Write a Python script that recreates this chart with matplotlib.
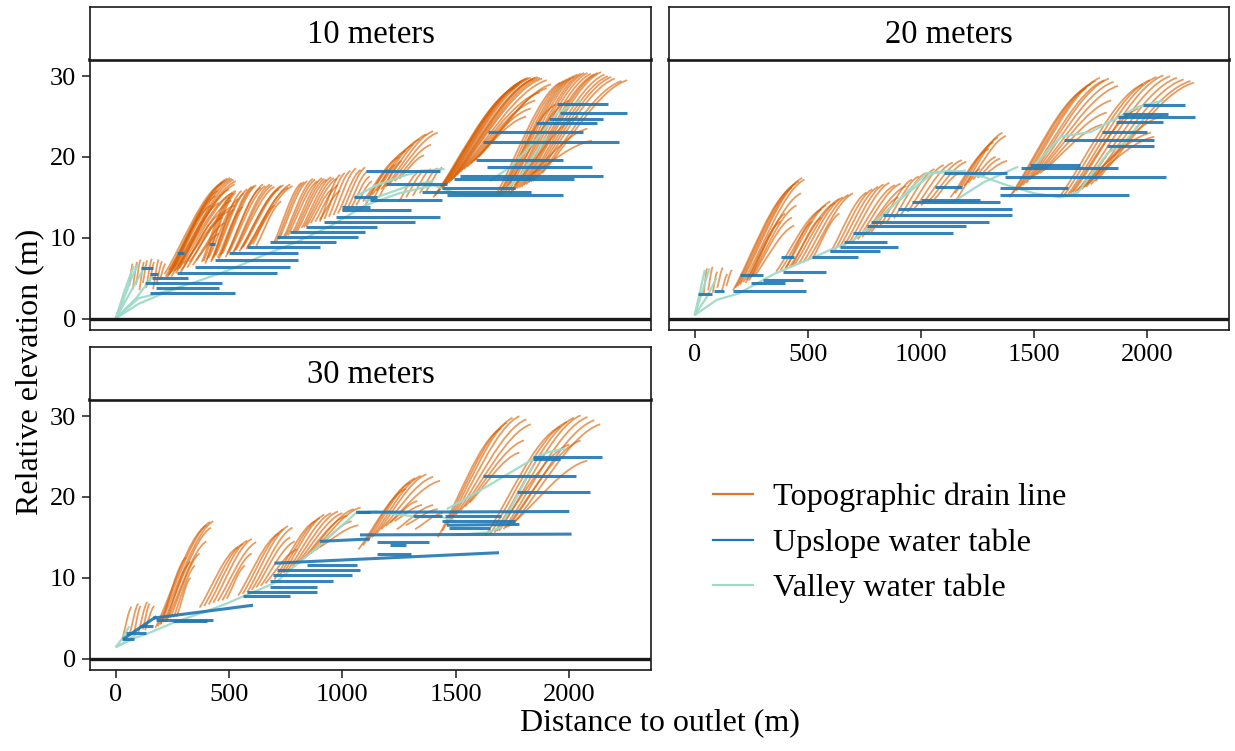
import matplotlib
matplotlib.use("Agg")
import matplotlib.pyplot as plt
from matplotlib.path import Path
from matplotlib.patches import PathPatch
from matplotlib.lines import Line2D

plt.rcParams['font.family'] = ['Liberation Serif', 'DejaVu Serif']

# ---------------- data ----------------
PANELS = ["10 meters", "20 meters", "30 meters"]
X_TICKS = [0, 500, 1000, 1500, 2000]
Y_TICKS = [0, 10, 20, 30]
SERIES = ["Topographic drain line", "Upslope water table", "Valley water table"]

# Topographic drain lines: (x_start, y_start, x_end, y_end)
DRAIN_10 = [
    (60, 4.0, 75, 6.8), (75, 3.6, 95, 7.0), (90, 4.2, 110, 7.3), (105, 3.5, 125, 7.0),
    (120, 4.4, 140, 7.2), (135, 3.8, 160, 7.4), (150, 4.5, 170, 7.0), (165, 3.6, 190, 7.3),
    (180, 4.2, 205, 7.1), (195, 4.8, 220, 6.8),
    (215, 5.5, 470, 16.8), (225, 5.0, 490, 17.3), (235, 6.0, 505, 17.4), (245, 5.2, 520, 17.2),
    (255, 6.2, 530, 17.0), (265, 5.6, 500, 16.0), (275, 6.5, 515, 15.5), (290, 6.0, 510, 14.6),
    (300, 6.8, 525, 14.0), (315, 6.3, 470, 12.5), (325, 7.0, 500, 13.3), (340, 6.6, 480, 11.8),
    (355, 7.2, 455, 10.5), (250, 5.8, 440, 15.2), (235, 5.4, 420, 14.0), (270, 6.0, 455, 14.3),
    (285, 5.7, 465, 13.0), (220, 5.2, 480, 17.0), (240, 5.6, 512, 17.3), (260, 5.9, 525, 16.6),
    (280, 6.2, 530, 15.8), (230, 5.3, 450, 15.8),
    (380, 7.0, 500, 15.0), (395, 6.8, 520, 15.5), (410, 7.5, 540, 14.8), (425, 7.2, 555, 15.8),
    (440, 7.8, 580, 16.0), (455, 7.4, 600, 16.3), (470, 8.0, 620, 16.5), (485, 7.6, 640, 16.2),
    (500, 8.2, 660, 16.4), (515, 8.0, 680, 16.6), (530, 8.5, 700, 16.3), (545, 8.3, 720, 16.0),
    (560, 8.8, 740, 16.5), (575, 8.6, 760, 16.2), (590, 9.0, 780, 16.4), (605, 9.2, 700, 14.0),
    (620, 9.0, 730, 14.5), (420, 7.0, 520, 13.5), (450, 7.5, 560, 13.8),
    (388, 7.1, 510, 15.2), (402, 7.3, 530, 15.6), (432, 7.6, 565, 15.5), (462, 7.8, 610, 16.4),
    (492, 8.0, 650, 16.6), (522, 8.3, 690, 16.5), (552, 8.6, 730, 16.4), (582, 8.9, 770, 16.6),
    (700, 9.5, 820, 16.8), (720, 9.8, 845, 17.0), (740, 10.0, 870, 17.3), (760, 10.3, 890, 17.0),
    (780, 10.6, 910, 17.4), (800, 10.8, 930, 17.2), (820, 11.2, 950, 17.5), (840, 11.4, 975, 17.3),
    (860, 11.8, 955, 16.0), (880, 12.0, 980, 16.5), (900, 12.2, 990, 15.8),
    (710, 9.6, 832, 16.9), (750, 10.2, 880, 17.2), (790, 10.7, 920, 17.3), (830, 11.3, 962, 17.4),
    (900, 12.0, 990, 17.8), (920, 12.3, 1010, 18.0), (940, 12.6, 1035, 18.3), (960, 12.8, 1060, 18.6),
    (980, 13.0, 1080, 18.4), (1000, 13.3, 1100, 18.7), (1020, 13.5, 1110, 18.2), (1040, 13.8, 1120, 17.6),
    (1060, 14.0, 1130, 17.0),
    (1090, 14.5, 1250, 20.0), (1110, 15.0, 1280, 20.8), (1130, 15.3, 1310, 21.5), (1150, 15.8, 1340, 22.2),
    (1170, 16.0, 1370, 22.8), (1190, 16.3, 1400, 23.2), (1210, 16.8, 1420, 23.0), (1230, 17.0, 1390, 21.5),
    (1250, 17.3, 1360, 20.2), (1100, 14.0, 1200, 18.5), (1130, 14.5, 1230, 19.0), (1160, 15.0, 1260, 19.5),
    (1250, 14.5, 1330, 18.0), (1280, 15.0, 1360, 18.3), (1310, 15.2, 1390, 18.5), (1340, 15.5, 1420, 18.6),
    (1370, 15.8, 1440, 18.7),
    (1400, 15.0, 1760, 28.5), (1415, 15.5, 1780, 29.0), (1430, 16.0, 1800, 29.5), (1445, 16.3, 1820, 29.8),
    (1460, 16.7, 1840, 29.6), (1475, 17.0, 1860, 29.9), (1490, 17.4, 1880, 29.7), (1505, 17.8, 1900, 29.5),
    (1520, 18.2, 1870, 28.0), (1535, 18.5, 1850, 27.0), (1550, 18.8, 1830, 26.0), (1565, 19.2, 1810, 25.0),
    (1580, 19.5, 1900, 28.5), (1600, 20.0, 1920, 29.0),
    (1408, 15.2, 1770, 28.8), (1422, 15.7, 1790, 29.3), (1438, 16.1, 1810, 29.7), (1452, 16.5, 1830, 29.8),
    (1468, 16.8, 1850, 29.8), (1483, 17.2, 1870, 29.8),
    (1680, 15.5, 1960, 29.2), (1700, 15.3, 1990, 29.6), (1720, 15.7, 2020, 30.0), (1740, 15.5, 2050, 30.3),
    (1760, 16.0, 2080, 30.4), (1780, 16.2, 2110, 30.2), (1800, 16.5, 2140, 30.5), (1820, 16.8, 2170, 30.0),
    (1840, 17.0, 2200, 29.7), (1860, 17.5, 2230, 29.4), (1880, 18.0, 2255, 29.5), (1720, 16.0, 2000, 27.0),
    (1760, 16.5, 2040, 25.0), (1800, 17.0, 2080, 23.5), (1840, 18.0, 2100, 22.0), (1700, 15.8, 1940, 26.5),
    (1690, 15.4, 1975, 29.4), (1710, 15.5, 2005, 29.8), (1730, 15.6, 2035, 30.2), (1750, 15.8, 2065, 30.4),
    (1770, 16.1, 2095, 30.3), (1790, 16.3, 2125, 30.4), (1810, 16.6, 2155, 30.2), (1830, 16.9, 2185, 29.9),
]
DRAIN_20 = [
    (40, 3.0, 55, 6.2), (60, 3.5, 80, 6.4), (80, 3.2, 100, 5.8), (100, 3.8, 125, 6.3),
    (120, 3.4, 145, 5.5), (140, 4.0, 165, 6.0),
    (170, 3.5, 430, 16.2), (180, 3.8, 445, 16.7), (190, 4.0, 460, 17.0), (200, 4.2, 475, 17.4),
    (215, 4.5, 485, 17.2), (230, 4.8, 470, 15.5), (245, 5.0, 450, 14.0), (255, 5.2, 430, 12.5),
    (265, 5.3, 440, 11.5), (240, 4.7, 400, 13.0), (225, 4.4, 380, 12.0),
    (360, 5.8, 560, 13.5), (380, 6.0, 580, 14.0), (400, 6.2, 600, 14.5), (420, 6.4, 620, 14.3),
    (440, 6.6, 640, 14.8), (460, 6.8, 655, 15.0), (480, 7.0, 680, 15.3), (500, 7.2, 700, 15.5),
    (520, 7.4, 640, 13.0), (400, 6.0, 520, 12.0), (430, 6.5, 560, 12.5),
    (600, 8.2, 760, 15.6), (620, 8.5, 785, 16.0), (640, 8.8, 810, 16.3), (660, 9.0, 835, 16.6),
    (680, 9.3, 860, 16.8), (700, 9.6, 885, 16.5), (720, 9.8, 910, 16.7), (740, 10.1, 935, 16.4),
    (760, 10.4, 900, 15.0), (780, 10.7, 880, 14.0),
    (820, 11.5, 960, 17.2), (850, 12.0, 990, 17.6), (880, 12.4, 1020, 18.0), (910, 12.8, 1060, 18.5),
    (940, 13.2, 1100, 19.0), (970, 13.6, 1140, 19.3), (1000, 14.0, 1180, 19.6), (1030, 14.4, 1200, 19.4),
    (1060, 14.8, 1170, 18.0),
    (1130, 15.0, 1300, 21.0), (1150, 15.5, 1320, 21.8), (1170, 16.0, 1340, 22.4), (1190, 16.4, 1360, 23.0),
    (1210, 16.8, 1375, 22.6), (1230, 17.2, 1330, 20.0), (1250, 17.4, 1350, 19.8), (1270, 17.6, 1380, 19.5),
    (1150, 14.5, 1260, 18.5),
    (1390, 15.0, 1730, 28.5), (1405, 15.5, 1750, 29.0), (1420, 15.8, 1770, 29.4), (1435, 16.2, 1790, 29.8),
    (1450, 16.5, 1810, 29.5), (1465, 16.8, 1830, 29.7), (1480, 17.2, 1850, 29.3), (1495, 17.5, 1870, 28.8),
    (1510, 17.8, 1840, 27.0), (1525, 18.0, 1820, 25.5), (1540, 18.3, 1800, 24.0),
    (1610, 15.0, 1980, 29.0), (1630, 15.2, 2010, 29.5), (1650, 15.4, 2040, 29.9), (1670, 15.6, 2070, 30.1),
    (1690, 15.8, 2100, 30.0), (1710, 16.0, 2130, 29.8), (1730, 16.3, 2160, 29.6), (1750, 16.6, 2190, 29.4),
    (1770, 17.0, 2205, 29.2), (1680, 15.7, 2015, 23.0), (1700, 16.0, 2030, 22.5), (1720, 16.3, 2060, 25.0),
    (1660, 15.5, 1960, 26.0),
]
DRAIN_30 = [
    (30, 2.5, 70, 6.4), (60, 2.8, 100, 6.8), (80, 3.0, 110, 6.5), (100, 3.2, 140, 7.0),
    (120, 3.6, 150, 6.8), (130, 3.5, 170, 6.5),
    (175, 3.8, 400, 16.5), (185, 4.0, 415, 16.9), (195, 4.2, 430, 17.0), (210, 4.5, 420, 16.2),
    (225, 4.7, 400, 14.5), (240, 5.0, 370, 13.0), (255, 5.1, 350, 11.5), (270, 5.2, 330, 10.0),
    (220, 4.5, 330, 12.0), (200, 4.3, 310, 12.5),
    (370, 6.3, 540, 13.8), (390, 6.5, 560, 14.2), (410, 6.7, 580, 14.6), (430, 6.9, 600, 14.8),
    (450, 7.1, 620, 14.4), (470, 7.2, 600, 13.0), (490, 7.4, 570, 11.5),
    (540, 7.8, 720, 15.5), (560, 8.0, 740, 16.0), (580, 8.2, 760, 16.4), (600, 8.5, 780, 16.2),
    (620, 8.8, 770, 15.0), (640, 9.0, 790, 14.5), (660, 9.3, 800, 13.5),
    (700, 9.8, 880, 17.0), (720, 10.2, 900, 17.4), (740, 10.6, 920, 17.8), (760, 11.0, 950, 18.0),
    (780, 11.4, 980, 18.2), (800, 11.8, 1000, 18.0), (820, 12.2, 1020, 17.7), (840, 12.6, 1050, 18.5),
    (860, 13.0, 1080, 18.7), (880, 13.4, 1040, 17.0), (900, 13.8, 1070, 16.5),
    (1070, 13.5, 1280, 21.0), (1090, 14.0, 1300, 21.8), (1110, 14.5, 1320, 22.3), (1130, 15.0, 1345, 22.6),
    (1150, 15.5, 1370, 22.8), (1170, 16.0, 1400, 22.5), (1190, 16.4, 1430, 22.0), (1210, 16.8, 1330, 19.5),
    (1230, 17.0, 1350, 19.0), (1240, 16.0, 1400, 19.0), (1280, 16.5, 1420, 18.5), (1320, 16.0, 1440, 18.0),
    (1420, 15.0, 1700, 28.5), (1440, 15.8, 1725, 29.2), (1460, 16.5, 1750, 29.8), (1480, 17.2, 1780, 30.0),
    (1500, 17.8, 1810, 29.6), (1520, 18.3, 1830, 29.0), (1540, 18.8, 1800, 27.0), (1560, 19.3, 1780, 25.5),
    (1630, 15.2, 1960, 28.7), (1650, 15.4, 1990, 29.3), (1670, 15.6, 2020, 29.8), (1690, 15.8, 2050, 30.1),
    (1710, 16.0, 2080, 29.9), (1730, 16.3, 2110, 29.5), (1750, 16.6, 2136, 29.0), (1680, 15.8, 2000, 26.5),
    (1720, 16.2, 2050, 27.0), (1760, 17.0, 2080, 24.5),
]

# Upslope water table: (x_start, y_start, x_end, y_end)
UPSLOPE_10 = [
    (150, 3.1, 525, 3.1), (180, 3.8, 455, 3.8), (130, 4.4, 470, 4.4), (160, 5.0, 320, 5.0),
    (270, 5.6, 710, 5.6), (350, 6.4, 770, 6.4), (440, 7.2, 805, 7.2), (500, 8.1, 805, 8.1),
    (580, 8.9, 900, 8.9), (680, 9.5, 970, 9.5), (710, 10.1, 1070, 10.1), (770, 10.7, 1100, 10.7),
    (840, 11.3, 1150, 11.3), (920, 11.9, 1320, 11.9), (970, 12.6, 1430, 12.6), (1000, 13.4, 1300, 13.4),
    (1000, 13.8, 1120, 13.8), (1120, 14.7, 1440, 14.7), (1050, 15.0, 1150, 15.0), (1460, 15.3, 1970, 15.3),
    (1350, 15.7, 1830, 15.7), (1440, 16.1, 1760, 16.1), (1190, 16.6, 1460, 16.6), (1490, 17.3, 2020, 17.3),
    (1520, 17.7, 2150, 17.7), (1105, 18.3, 1430, 18.3), (1635, 18.7, 2100, 18.7), (1590, 19.6, 1970, 19.6),
    (1620, 21.9, 2220, 21.9), (1640, 23.1, 2060, 23.1), (1855, 24.2, 2120, 24.2), (1910, 24.7, 2150, 24.7),
    (1960, 25.5, 2253, 25.5), (1944, 26.6, 2170, 26.6),
    (150, 5.5, 185, 5.5), (110, 6.3, 165, 6.3), (410, 9.2, 440, 9.2), (270, 8.1, 300, 8.1),
]
UPSLOPE_20 = [
    (15, 3.0, 75, 3.0), (85, 3.4, 130, 3.4), (170, 3.4, 490, 3.4), (250, 4.4, 400, 4.4),
    (300, 4.8, 480, 4.8), (200, 5.4, 300, 5.4), (390, 5.8, 580, 5.8), (380, 7.6, 440, 7.6),
    (520, 7.6, 720, 7.6), (600, 8.3, 820, 8.3), (640, 8.9, 900, 8.9), (660, 9.5, 850, 9.5),
    (700, 10.6, 1140, 10.6), (760, 11.4, 1200, 11.4), (780, 11.9, 1300, 11.9), (830, 12.8, 1400, 12.8),
    (900, 13.6, 1400, 13.6), (960, 14.4, 1350, 14.4), (1000, 14.7, 1260, 14.7), (1060, 16.3, 1180, 16.3),
    (1100, 18.0, 1380, 18.0), (1350, 15.3, 1920, 15.3), (1350, 16.1, 1650, 16.1), (1370, 17.5, 2080, 17.5),
    (1440, 18.6, 1870, 18.6), (1480, 19.0, 1700, 19.0), (1820, 21.3, 2030, 21.3), (1630, 22.1, 2030, 22.1),
    (1800, 23.1, 2000, 23.1), (1860, 24.3, 2070, 24.3), (1870, 24.9, 2210, 24.9), (1890, 25.3, 2090, 25.3),
    (1980, 26.4, 2165, 26.4),
]
UPSLOPE_30 = [
    (30, 2.4, 80, 2.4), (47, 3.2, 135, 3.2), (107, 4.0, 165, 4.0), (33, 2.4, 180, 5.2),
    (165, 5.0, 606, 6.6), (180, 4.8, 430, 4.8), (254, 4.6, 401, 4.6), (562, 7.7, 768, 7.7),
    (577, 8.2, 886, 8.2), (680, 8.8, 886, 8.8), (680, 9.6, 960, 9.6), (695, 10.4, 1040, 10.4),
    (710, 11.0, 1077, 11.0), (842, 11.6, 1062, 11.6), (700, 11.8, 1690, 13.1), (900, 14.5, 1120, 14.8),
    (1062, 18.1, 1120, 18.1), (1077, 15.3, 2010, 15.4), (1060, 18.1, 2000, 18.2), (1440, 17.0, 1760, 17.0),
    (1450, 17.6, 1700, 17.6), (1460, 16.5, 1780, 16.6), (1470, 16.2, 1650, 16.2), (1770, 20.6, 2090, 20.6),
    (1620, 22.6, 2030, 22.6), (1840, 24.9, 2145, 24.9), (1840, 24.7, 1960, 24.7), (1210, 14.0, 1280, 14.0),
    (1150, 14.4, 1380, 14.4), (1150, 12.9, 1300, 12.9), (1310, 17.6, 1440, 17.6),
]

# Valley water table: polylines of (x, y)
VALLEY_10 = [
    [(0, 0), (40, 3.5), (80, 6.5)],
    [(0, 0), (60, 3.0), (130, 6.5)],
    [(0, 0), (90, 2.5), (170, 5.5)],
    [(0, 0), (30, 2.0), (70, 5.0), (100, 6.8)],
    [(0, 0), (100, 1.8), (200, 3.0), (300, 4.0)],
    [(0, 0), (100, 2.5), (200, 3.2), (350, 4.5), (500, 6.0), (650, 7.8), (800, 9.5), (950, 11.5),
     (1100, 14.0), (1250, 15.5), (1400, 16.5), (1500, 15.5), (1600, 15.3), (1700, 15.3)],
    [(1050, 15.0), (1150, 16.5), (1250, 17.5), (1350, 18.3), (1450, 18.5)],
    [(1100, 14.5), (1200, 15.5), (1300, 16.5), (1400, 17.0)],
    [(1650, 17.0), (1750, 19.0), (1850, 22.0), (1950, 25.5), (2050, 27.0)],
    [(1700, 15.5), (1780, 17.5), (1850, 20.5), (1900, 22.5)],
]
VALLEY_20 = [
    [(0, 0.4), (30, 3.0), (66, 6.2)],
    [(0, 0.4), (50, 2.5), (97, 5.0)],
    [(0, 0.4), (25, 3.5), (45, 6.0)],
    [(0, 0.4), (97, 2.3), (194, 3.1), (350, 5.5), (494, 7.2), (600, 8.5), (701, 9.7), (800, 12.0),
     (904, 14.7), (1023, 18.0), (1133, 18.3), (1279, 17.5), (1380, 16.5), (1500, 15.5), (1618, 15.0)],
    [(905, 14.7), (1052, 18.0), (1199, 18.3)],
    [(1133, 14.3), (1279, 16.9), (1429, 18.8)],
    [(1500, 19.0), (1618, 22.5), (1750, 23.1), (1958, 26.2), (2072, 27.0)],
    [(1618, 15.0), (1693, 15.6), (1825, 20.5), (1896, 21.7), (1990, 25.0)],
]
VALLEY_30 = [
    [(0, 1.4), (30, 2.5), (60, 4.0)],
    [(0, 1.4), (40, 2.0), (90, 3.0)],
    [(0, 1.4), (80, 2.5), (151, 3.2), (260, 4.5), (385, 5.7), (480, 6.7), (562, 7.7), (640, 8.6),
     (710, 9.5), (770, 11.0), (827, 12.3), (916, 14.4), (1003, 16.6), (1063, 18.1), (1150, 18.2),
     (1250, 17.8), (1350, 17.5), (1430, 17.6), (1500, 17.0)],
    [(1460, 18.5), (1637, 21.3), (1840, 24.7), (1901, 25.5), (1980, 26.0)],
    [(1500, 15.3), (1637, 15.6), (1695, 16.2), (1770, 20.1), (1840, 23.8)],
]

# ---------------- styling ----------------
ORANGE = "#d95f02"
BLUE = "#1f77b4"
TEAL = "#9fdac8"
DARK = "#1a1a1a"
# cubic bezier shape of a drain line (fractions of its span)
C1 = (0.30, 0.30)
C2 = (0.65, 0.90)

fig = plt.figure(figsize=(12.35, 7.51), dpi=100)
FW, FH = 1235.0, 751.0


def box(l, t, r, b):
    return [l / FW, 1 - b / FH, (r - l) / FW, (b - t) / FH]


layout = {
    "10 meters": ((90, 60, 651, 330), (90, 7, 651, 60), True, False),
    "20 meters": ((669, 60, 1229, 330), (669, 7, 1229, 60), False, True),
    "30 meters": ((90, 400, 651, 670), (90, 347, 651, 400), True, True),
}
data = {
    "10 meters": (DRAIN_10, UPSLOPE_10, VALLEY_10),
    "20 meters": (DRAIN_20, UPSLOPE_20, VALLEY_20),
    "30 meters": (DRAIN_30, UPSLOPE_30, VALLEY_30),
}

for name in PANELS:
    ax_box, strip_box, show_y, show_x = layout[name]
    ax = fig.add_axes(box(*ax_box))
    drains, ups, valleys = data[name]
    for (x0, y0, x1, y1) in drains:
        dx, dy = x1 - x0, y1 - y0
        p = Path([(x0, y0), (x0 + C1[0] * dx, y0 + C1[1] * dy),
                  (x0 + C2[0] * dx, y0 + C2[1] * dy), (x1, y1)],
                 [Path.MOVETO, Path.CURVE4, Path.CURVE4, Path.CURVE4])
        ax.add_patch(PathPatch(p, fc="none", ec=ORANGE, lw=1.3, alpha=0.62, zorder=1))
    for line in valleys:
        xs = [pt[0] for pt in line]
        ys = [pt[1] for pt in line]
        ax.plot(xs, ys, color=TEAL, lw=1.6, alpha=0.95, zorder=2, solid_capstyle="butt")
    for (x0, y0, x1, y1) in ups:
        ax.plot([x0, x1], [y0, y1], color=BLUE, lw=2.2, alpha=0.9, zorder=3, solid_capstyle="butt")
    ax.axhline(0, color=DARK, lw=2.4, zorder=4)
    ax.set_xlim(-113, 2360)
    ax.set_ylim(-1.42, 32)
    for s in ax.spines.values():
        s.set_linewidth(1.2)
        s.set_color(DARK)
    ax.spines["top"].set_linewidth(2.6)
    ax.set_xticks(X_TICKS)
    ax.set_yticks(Y_TICKS)
    ax.tick_params(axis="both", direction="out", length=6, width=1.1, color=DARK,
                   labelsize=19, pad=4, labelcolor="black")
    if not show_y:
        ax.tick_params(axis="y", left=False, labelleft=False)
    if not show_x:
        ax.tick_params(axis="x", bottom=False, labelbottom=False)

    sax = fig.add_axes(box(*strip_box))
    sax.set_xticks([])
    sax.set_yticks([])
    for s in sax.spines.values():
        s.set_linewidth(1.2)
        s.set_color(DARK)
    sax.text(0.5, 0.47, name, ha="center", va="center", fontsize=23.5, transform=sax.transAxes)

fig.text(660 / FW, 1 - 723 / FH, "Distance to outlet (m)", ha="center", va="center", fontsize=23)
fig.text(30 / FW, 1 - 372 / FH, "Relative elevation (m)", ha="center", va="center",
         rotation=90, fontsize=23)

handles = [
    Line2D([], [], color=ORANGE, lw=1.6, alpha=0.85),
    Line2D([], [], color=BLUE, lw=1.6),
    Line2D([], [], color=TEAL, lw=1.6),
]
fig.legend(handles, SERIES, loc="center left", bbox_to_anchor=(713 / FW, 1 - 543 / FH),
           frameon=False, fontsize=23.2, handlelength=1.25, handletextpad=0.6,
           labelspacing=0.5, borderpad=0, borderaxespad=0)

fig.savefig("out.png", dpi=100)
